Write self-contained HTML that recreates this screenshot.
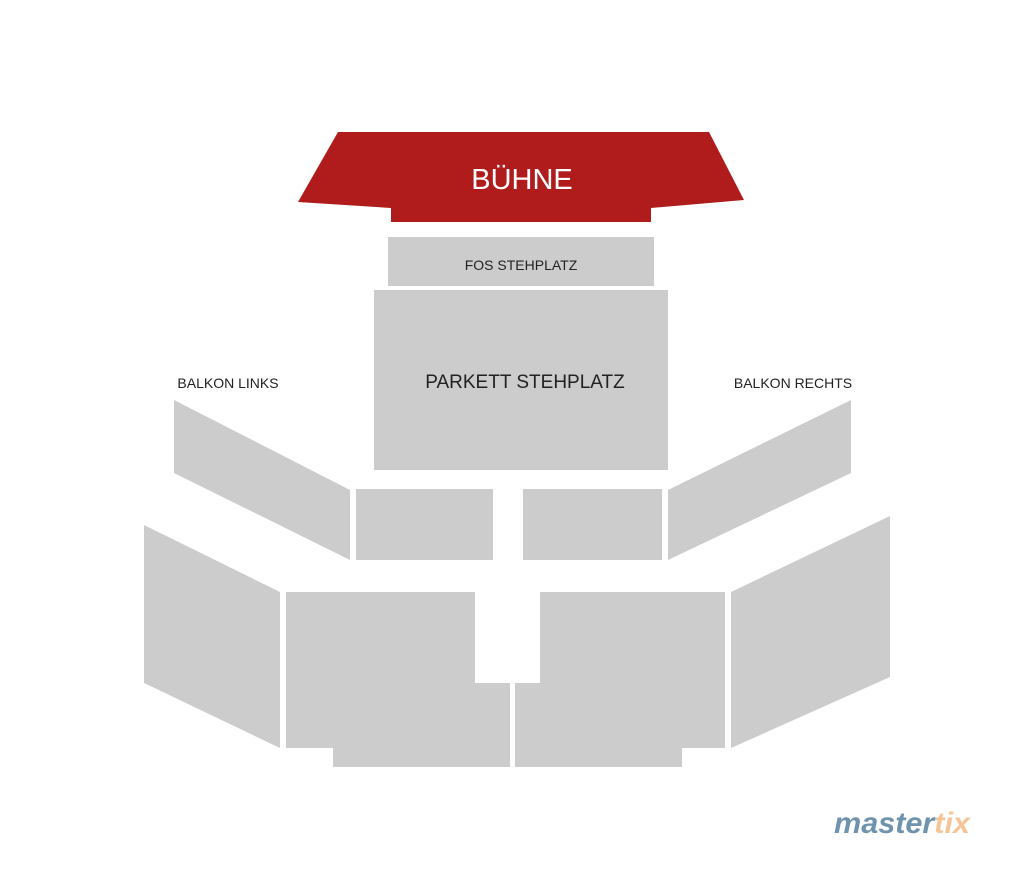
<!DOCTYPE html>
<html><head><style>
body{margin:0;background:#fff;}
svg{display:block;}
text{font-family:"Liberation Sans",sans-serif;}
</style></head><body>
<svg width="1024" height="878" viewBox="0 0 1024 878">
<polygon fill="#b01b1c" points="338,132 709,132 744,200 651,208 651,222 391,222 391,208 298,202"/>
<text x="522" y="189" font-size="29" fill="#fff" text-anchor="middle">BÜHNE</text>
<g fill="#cccccc">
<rect x="388" y="237" width="266" height="49"/>
<rect x="374" y="290" width="294" height="180"/>
<polygon points="174,400 350,490 350,560 174,473"/>
<rect x="356" y="489" width="137" height="71"/>
<rect x="523" y="489" width="139" height="71"/>
<polygon points="668,490 851,400 851,473 668,560"/>
<polygon points="144,525 280,592 280,748 144,683"/>
<polygon points="286,592 475,592 475,683 510,683 510,767 333,767 333,748 286,748"/>
<polygon points="540,592 725,592 725,748 682,748 682,767 515,767 515,683 540,683"/>
<polygon points="731,592 890,516 890,677 731,748"/>
</g>
<text x="521" y="270" font-size="14" fill="#222" text-anchor="middle">FOS STEHPLATZ</text>
<text x="525" y="388" font-size="19" fill="#222" text-anchor="middle">PARKETT STEHPLATZ</text>
<text x="228" y="388" font-size="14" fill="#222" text-anchor="middle">BALKON LINKS</text>
<text x="793" y="388" font-size="14" fill="#222" text-anchor="middle">BALKON RECHTS</text>
<text x="834" y="833" font-size="30" font-weight="bold" font-style="italic" fill="#6f92ad" textLength="136" lengthAdjust="spacingAndGlyphs">master<tspan fill="#f5c597">tix</tspan></text>
</svg>
</body></html>
